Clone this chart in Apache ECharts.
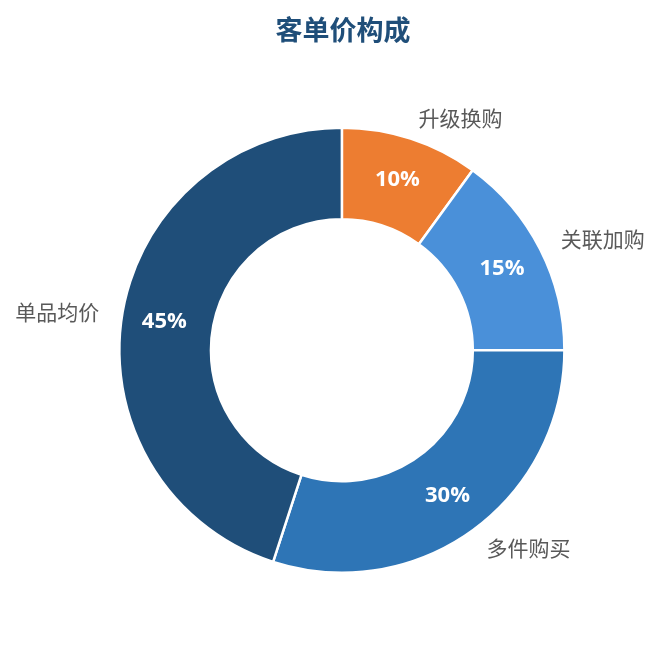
<!DOCTYPE html>
<html><head><meta charset="utf-8">
<script src="https://cdn.jsdelivr.net/npm/echarts@6/dist/echarts.min.js"></script>
<style>html,body{margin:0;padding:0;background:#fff}#c{width:660px;height:645px}</style>
</head><body><div id="c"></div>
<script>
const categories = ['升级换购','关联加购','多件购买','单品均价'];
const values = [10, 15, 30, 45];
const colors = ['#ED7D31','#4A90D9','#2E75B6','#1F4E79'];
const data = categories.map((n,i)=>({name:n,value:values[i],itemStyle:{color:colors[i]}}));
const chart = echarts.init(document.getElementById('c'));
const font = '"Noto Sans CJK SC","Noto Sans",sans-serif';
chart.setOption({
  backgroundColor:'#fff',
  title:{text:'客单价构成',left:338,textAlign:'center',top:11,textStyle:{fontFamily:font,fontSize:27,fontWeight:'bold',color:'#1F4E79'}},
  series:[
    {type:'pie',radius:['40.6%','69%'],center:['51.8%','54.3%'],startAngle:90,clockwise:true,
     itemStyle:{borderColor:'#fff',borderWidth:2.5},
     label:{show:true,position:'inside',formatter:'{c}%',color:'#fff',fontSize:22,fontWeight:'bold',fontFamily:'"Open Sans","Noto Sans CJK SC",sans-serif'},
     labelLine:{show:false},silent:true,data:data},
    {type:'pie',radius:['40.6%','69%'],center:['51.8%','54.3%'],startAngle:90,clockwise:true,
     itemStyle:{color:'rgba(0,0,0,0)',borderWidth:0},
     label:{show:true,position:'outside',formatter:'{b}',color:'#595959',fontSize:21,fontFamily:font,distanceToLabelLine:1},
     labelLine:{show:false,length:22,length2:0},silent:true,
     data:categories.map((n,i)=>({name:n,value:values[i]}))}
  ]
});
</script></body></html>
